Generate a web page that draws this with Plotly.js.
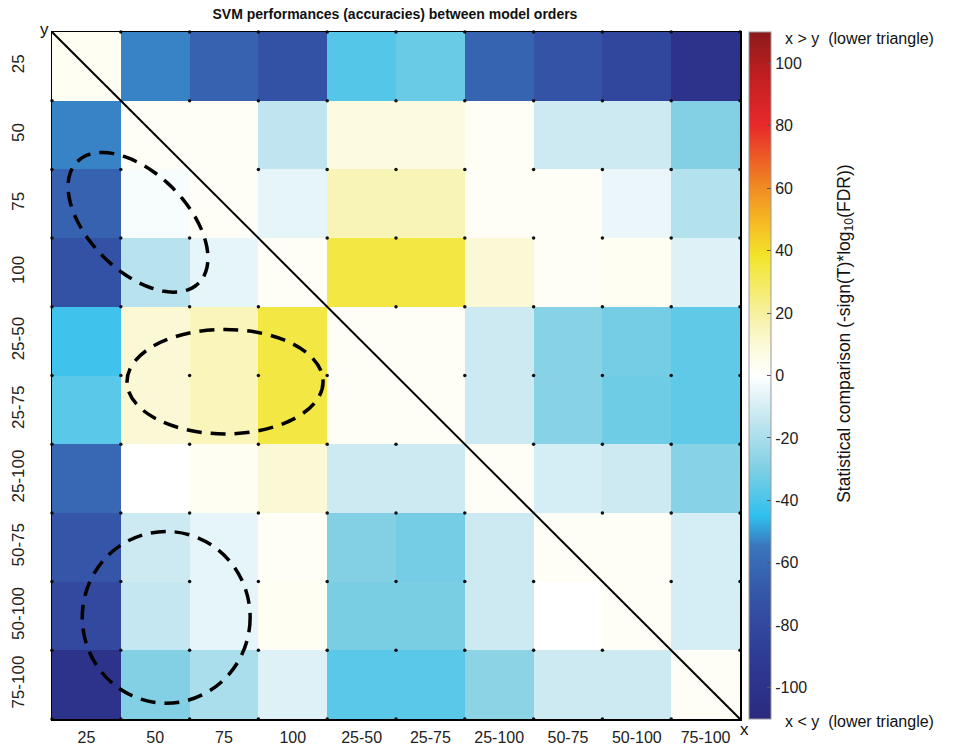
<!DOCTYPE html>
<html>
<head>
<meta charset="utf-8">
<script src="https://cdn.plot.ly/plotly-3.0.1.min.js"></script>
<style>html,body{margin:0;padding:0;background:#fff;}#plot{width:969px;height:748px;}</style>
</head>
<body>
<div id="plot"></div>
<script>
// Model orders (categories), rows top -> bottom, columns left -> right
const orders = ['25','50','75','100','25-50','25-75','25-100','50-75','50-100','75-100'];

// Statistical comparison values, one array per row (y category)
const row_25     = [   3, -53, -64, -73, -38, -34, -63, -72, -82, -100];
const row_50     = [ -53,   2,   2, -15,   8,   8,   2, -12, -12,  -29];
const row_75     = [ -64,  -2,   2,  -6,  16,  16,   2,   2,  -5,  -18];
const row_100    = [ -73, -17,  -6,   2,  34,  34,  10,   2,   3,   -8];
const row_25_50  = [ -42,  10,  15,  34,   2,   2, -12, -28, -32,  -36];
const row_25_75  = [ -37,  10,  15,  34,   2,   2, -12, -28, -33,  -36];
const row_25_100 = [ -61,   0,   3,  10, -12, -12,   2, -10, -12,  -28];
const row_50_75  = [ -70, -12,  -6,   2, -29, -32, -12,   2,   2,  -10];
const row_50_100 = [ -80, -14,  -6,   3, -31, -31, -12,   0,   2,  -10];
const row_75_100 = [-100, -29, -20,  -8, -37, -37, -27, -12, -12,    2];

const zRows = [row_25,row_50,row_75,row_100,row_25_50,row_25_75,row_25_100,row_50_75,row_50_100,row_75_100];

const cbTicks = [-100,-80,-60,-40,-20,0,20,40,60,80,100];

const zmin = -110, zmax = 110;
const stops = [
  [-110,'#2b2a7f'],[-90,'#2e3b95'],[-70,'#3556a8'],[-55,'#3a74bb'],[-45,'#2fc0ee'],
  [-30,'#7fcfe3'],[-15,'#c0e5f0'],[0,'#ffffff'],[8,'#fcfbe0'],[20,'#f6f0a0'],
  [38,'#f2e52a'],[50,'#f6b624'],[60,'#f08c22'],[80,'#e8292a'],[95,'#c41f22'],[110,'#8b1a1a']
];
const colorscale = stops.map(s => [(s[0]-zmin)/(zmax-zmin), s[1]]);

const idx = orders.map((_, i) => i);
const n = orders.length;

// grid intersection dots (cell boundaries), except on the diagonal
const dx = [], dy = [];
for (let i = 0; i <= n; i++) {
  for (let j = 0; j <= n; j++) {
    if (i === j) continue;
    dx.push(i - 0.5); dy.push(j - 0.5);
  }
}

const heat = {
  type: 'heatmap', x: idx, y: idx, z: zRows,
  zmin: zmin, zmax: zmax, colorscale: colorscale,
  hoverinfo: 'skip',
  colorbar: {
    x: 1.013, xanchor: 'left', xpad: 0, y: 0.5, yanchor: 'middle',
    len: 1, lenmode: 'fraction', thickness: 22, ypad: 0,
    outlinewidth: 1, outlinecolor: '#999',
    tickvals: cbTicks, ticktext: cbTicks.map(String),
    ticks: 'inside', ticklen: 4, tickcolor: '#555',
    tickfont: {family: 'Liberation Sans, Arial, sans-serif', size: 16, color: '#222'}
  }
};

const dots = {
  type: 'scatter', mode: 'markers', x: dx, y: dy,
  marker: {color: '#111', size: 3.5}, hoverinfo: 'skip', showlegend: false, cliponaxis: false
};

// rotated ellipse path (along diagonal)
function rotEllipse(cx, cy, a, b, ang) {
  const pts = [];
  for (let k = 0; k <= 72; k++) {
    const t = 2 * Math.PI * k / 72;
    const ex = a * Math.cos(t), ey = b * Math.sin(t);
    const x = cx + ex * Math.cos(ang) - ey * Math.sin(ang);
    const y = cy + ex * Math.sin(ang) + ey * Math.cos(ang);
    pts.push((k === 0 ? 'M' : 'L') + x.toFixed(4) + ',' + y.toFixed(4));
  }
  return pts.join(' ') + ' Z';
}

const dashLine = {color: '#000', width: 3.5, dash: '15px,9px'};
const F = 'Liberation Sans, Arial, sans-serif';

const layout = {
  width: 969, height: 748,
  margin: {l: 52, r: 229, t: 32, b: 29},
  paper_bgcolor: '#fff', plot_bgcolor: '#fff',
  title: {text: '<b>SVM performances (accuracies) between model orders</b>',
          x: 0.4985, xref: 'paper', y: 1 - 14/748, yanchor: 'middle',
          font: {family: F, size: 14, color: '#111'}},
  xaxis: {range: [-0.5, 9.5], tickvals: idx, ticktext: orders, showgrid: false, zeroline: false,
          showline: true, mirror: true, linecolor: '#000', linewidth: 1.5, ticks: '',
          ticklabelstandoff: 3, tickfont: {family: F, size: 16, color: '#222'}, fixedrange: true},
  yaxis: {range: [9.5, -0.5], tickvals: idx, ticktext: orders, showgrid: false, zeroline: false,
          showline: true, mirror: true, linecolor: '#000', linewidth: 1.5, ticks: '',
          tickangle: -90, ticklabelstandoff: 20, tickfont: {family: F, size: 17, color: '#222'}, fixedrange: true},
  shapes: [
    {type: 'line', xref: 'paper', yref: 'paper', x0: 0, y0: 1, x1: 1, y1: 0, line: {color: '#000', width: 2}},
    {type: 'path', xref: 'x', yref: 'y', path: rotEllipse(0.75, 2.27, 1.25, 0.71, Math.PI/4), line: dashLine},
    {type: 'circle', xref: 'x', yref: 'y', x0: 0.59, x1: 3.44, y0: 3.83, y1: 5.35, line: dashLine},
    {type: 'circle', xref: 'x', yref: 'y', x0: -0.06, x1: 2.38, y0: 6.77, y1: 9.27, line: dashLine}
  ],
  annotations: [
    {xref: 'paper', yref: 'paper', x: 1.0625, y: 1 - 6/687, xanchor: 'left', yanchor: 'middle',
     text: 'x > y  (lower triangle)', showarrow: false, font: {family: F, size: 16, color: '#111'}},
    {xref: 'paper', yref: 'paper', x: 1.0625, y: -3/687, xanchor: 'left', yanchor: 'middle',
     text: 'x < y  (lower triangle)', showarrow: false, font: {family: F, size: 16, color: '#111'}},
    {xref: 'paper', yref: 'paper', x: 1.153, y: 0.561, xanchor: 'center', yanchor: 'middle', textangle: -90,
     text: 'Statistical comparison (-sign(T)*log<sub>10</sub>(FDR))', showarrow: false,
     font: {family: F, size: 17.5, color: '#111'}},
    {xref: 'paper', yref: 'paper', x: -8/688, y: 1 + 3/687, xanchor: 'center', yanchor: 'middle',
     text: 'y', showarrow: false, font: {family: F, size: 17, color: '#111'}},
    {xref: 'paper', yref: 'paper', x: 1 + 5/688, y: -10/687, xanchor: 'center', yanchor: 'middle',
     text: 'x', showarrow: false, font: {family: F, size: 17, color: '#111'}}
  ],
  showlegend: false
};

Plotly.newPlot('plot', [heat, dots], layout, {displayModeBar: false, staticPlot: true});
</script>
</body>
</html>
